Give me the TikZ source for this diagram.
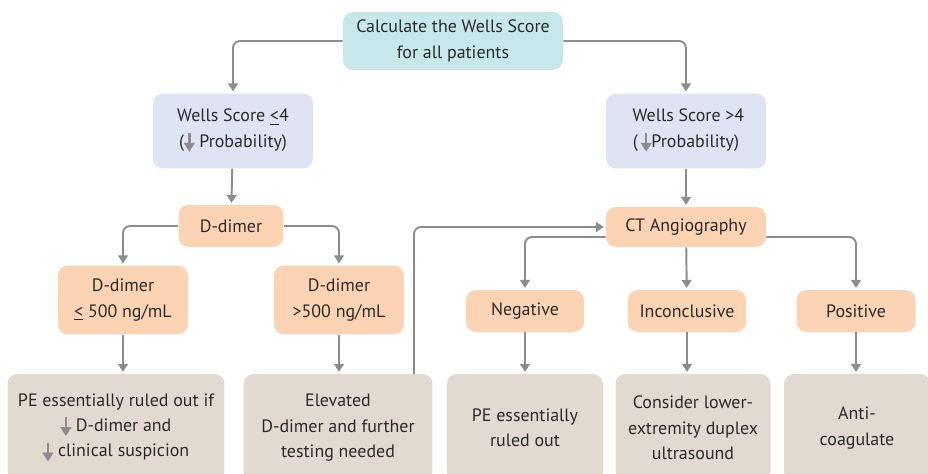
\documentclass[tikz,border=0pt]{standalone}
\usepackage{fontspec}
\setmainfont{PT Sans}
\usepackage{xcolor}
\usepackage{tikz}
\usetikzlibrary{arrows.meta}

\definecolor{tealbox}{HTML}{C6E8EA}
\definecolor{lilacbox}{HTML}{DEE4F4}
\definecolor{peachbox}{HTML}{FCD4B4}
\definecolor{sandbox}{HTML}{E2D9D1}
\definecolor{linegray}{HTML}{8C8C8E}
\definecolor{textdark}{HTML}{2A2A2A}

% small grey down arrow used inside the text
\newcommand{\dn}{\tikz[baseline=0pt]\draw[linegray, line width=1.4pt, -{Triangle[width=6pt,length=5pt]}] (0,1.6ex) -- (0,-0.5ex);}

\begin{document}
\begin{tikzpicture}[x=0.02cm, y=-0.02cm,
    box/.style={rounded corners=0.2cm, align=center, text=textdark, inner sep=0pt,
                font=\fontsize{10.2}{14.5}\selectfont},
    flow/.style={linegray, line width=1.1pt, rounded corners=0.14cm, shorten >=1pt,
                 -{Triangle[width=5.5pt,length=4.5pt]}}]
    \useasboundingbox (0,0) rectangle (928,473);

    % Start
    \node[box, fill=tealbox, minimum width=4.4cm, minimum height=1.16cm] (calc) at (453,41) {Calculate the Wells Score\\for all patients};

    % Wells score split
    \node[box, fill=lilacbox, minimum width=3.2cm, minimum height=1.5cm] (wlow) at (233,131) {Wells Score \underline{<}4\\(\dn\ Probability)};
    \node[box, fill=lilacbox, minimum width=3.2cm, minimum height=1.5cm] (whigh) at (686,131) {\ Wells Score >4\\(\,\dn Probability)};

    % Tests
    \node[box, fill=peachbox, minimum width=2.1cm, minimum height=0.84cm] (ddimer) at (231,226) {D-dimer};
    \node[box, fill=peachbox, minimum width=3.2cm, minimum height=0.8cm] (ct) at (686,227) {CT Angiography};

    % Results
    \node[box, fill=peachbox, minimum width=2.6cm, minimum height=1.38cm] (dlow) at (123,300) {D-dimer\\\underline{<} 500 ng/mL};
    \node[box, fill=peachbox, minimum width=2.6cm, minimum height=1.38cm] (dhigh) at (339,300) {D-dimer\\>500 ng/mL};
    \node[box, fill=peachbox, minimum width=2.36cm, minimum height=0.84cm] (neg) at (525,311) {Negative};
    \node[box, fill=peachbox, minimum width=2.36cm, minimum height=0.84cm] (inc) at (687,311) {Inconclusive};
    \node[box, fill=peachbox, minimum width=2.38cm, minimum height=0.84cm] (pos) at (856,311) {Positive};

    % Outcomes (run off the bottom edge)
    \node[box, fill=sandbox, minimum width=4.34cm, minimum height=2.16cm] (out1) at (116,428) {PE essentially ruled out if\\\dn\ D-dimer and\\\dn\ clinical suspicion};
    \node[box, fill=sandbox, minimum width=3.78cm, minimum height=2.16cm] (out2) at (338,428) {Elevated\\D-dimer and further\\testing needed};
    \node[box, fill=sandbox, minimum width=3.12cm, minimum height=2.16cm] (out3) at (525,428) {PE essentially\\ruled out};
    \node[box, fill=sandbox, minimum width=3.1cm, minimum height=2.16cm] (out4) at (693,428) {Consider lower-\\extremity duplex\\ultrasound};
    \node[box, fill=sandbox, minimum width=2.92cm, minimum height=2.16cm] (out5) at (857,428) {Anti-\\coagulate};

    % Connectors
    \draw[flow] (calc.west) -| (wlow.north);
    \draw[flow] (calc.east) -| (whigh.north);
    \draw[flow] (wlow) -- (ddimer);
    \draw[flow] (whigh) -- (ct);
    \draw[flow] (ddimer.west) -| (dlow.north);
    \draw[flow] (ddimer.east) -| (dhigh.north);
    \draw[flow] (dlow.south) -- (dlow.south |- out1.north);
    \draw[flow] (dhigh.south) -- (dhigh.south |- out2.north);
    \draw[flow] ([yshift=-0.2cm]ct.west) -| (neg.north);
    \draw[flow] (ct) -- (inc);
    \draw[flow] ([yshift=-0.2cm]ct.east) -| (pos.north);
    \draw[flow] (neg) -- (out3);
    \draw[flow] (inc.south) -- (inc.south |- out4.north);
    \draw[flow] (pos.south) -- (pos.south |- out5.north);

    % Back to CT after raised D-dimer
    \coordinate (back) at (414,374);
    \draw[flow] (back) |- (ct.west);
\end{tikzpicture}
\end{document}
